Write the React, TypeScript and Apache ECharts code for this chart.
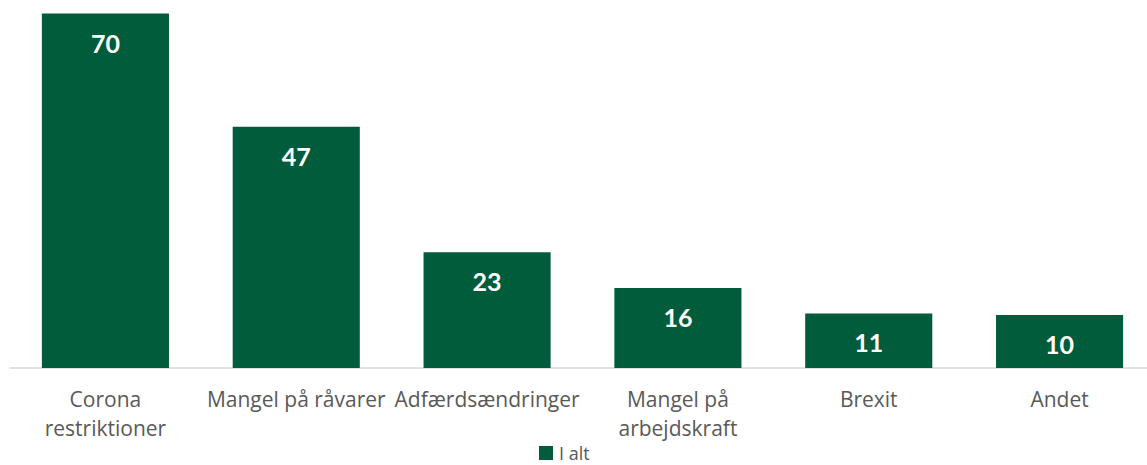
import React, { useEffect, useRef } from "react";
import * as echarts from "echarts";

const categories = [
  "Corona\nrestriktioner",
  "Mangel på råvarer",
  "Adfærdsændringer",
  "Mangel på\narbejdskraft",
  "Brexit",
  "Andet",
];
const seriesName = "I alt";
const values = [69.5, 47.3, 22.7, 15.7, 10.7, 10.4];

export default function App() {
  const ref = useRef<HTMLDivElement>(null);
  useEffect(() => {
    if (!ref.current) return;
    const chart = echarts.init(ref.current, null, { renderer: "svg" });
    chart.setOption({
      animation: false,
      backgroundColor: "#ffffff",
      grid: { left: 10, right: 1, top: 13.5, bottom: 97, containLabel: false },
      legend: {
        data: [seriesName],
        left: 539,
        top: 444,
        padding: 0,
        itemWidth: 14,
        itemHeight: 14,
        itemGap: 6,
        icon: "rect",
        textStyle: {
          fontFamily: "Open Sans",
          fontSize: 18,
          lineHeight: 16,
          color: "#595959",
          padding: [0, 0, 0, 1],
        },
      },
      xAxis: {
        type: "category",
        data: categories,
        axisLine: { show: true, lineStyle: { color: "#D9D9D9", width: 1.5 } },
        axisTick: { show: false },
        axisLabel: {
          interval: 0,
          margin: 16,
          fontFamily: "Open Sans",
          fontSize: 21,
          lineHeight: 29,
          color: "#595959",
        },
      },
      yAxis: {
        type: "value",
        show: false,
        min: 0,
        max: Math.max(...values),
        splitLine: { show: false },
      },
      series: [
        {
          name: seriesName,
          type: "bar",
          data: values,
          barWidth: "66.6%",
          itemStyle: { color: "#005C3B" },
          label: {
            show: true,
            position: "insideTop",
            distance: 16,
            formatter: (p: any) => String(Math.round(p.value)),
            fontFamily: "Lato",
            fontWeight: "bold",
            fontSize: 25,
            lineHeight: 26,
            color: "#ffffff",
          },
        },
      ],
    });
    return () => chart.dispose();
  }, []);
  return (
    <div style={{ position: "absolute", left: 0, top: 0, width: 1147, height: 465, overflow: "hidden" }}>
      <div ref={ref} style={{ width: 1156, height: 465 }} />
    </div>
  );
}
